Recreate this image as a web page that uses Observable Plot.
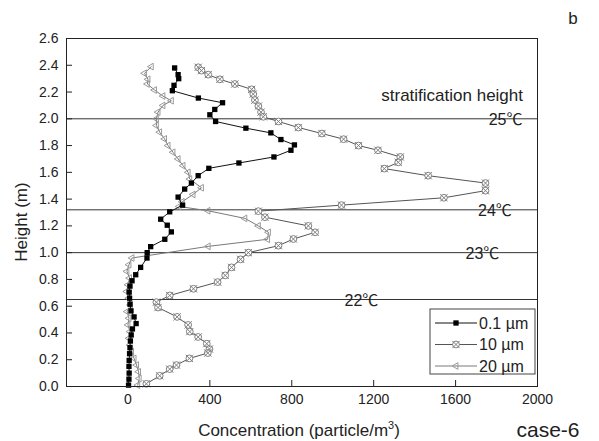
<!DOCTYPE html>
<html>
<head>
<meta charset="utf-8">
<script src="https://cdn.jsdelivr.net/npm/d3@7"></script>
<script src="https://cdn.jsdelivr.net/npm/@observablehq/plot@0.6"></script>
<style>
  body { margin: 0; background: #fff; }
  #chart { width: 599px; height: 441px; }
  svg text { font-family: "Liberation Sans", Arial, "Noto Sans CJK SC", sans-serif; }
</style>
</head>
<body>
<div id="chart"></div>
<script>
// Particle concentration profiles against height (case-6)
const series = ["0.1 µm", "10 µm", "20 µm"];

// 0.1 µm particles: height (m) and concentration (particle/m³)
const h01 = [2.38, 2.33, 2.30, 2.25, 2.21, 2.155, 2.12, 2.07, 2.03, 1.98, 1.93, 1.895, 1.845, 1.805, 1.765, 1.715,
  1.67, 1.63, 1.575, 1.52, 1.475, 1.415, 1.355, 1.305, 1.25, 1.205, 1.155, 1.10, 1.045, 1.00, 0.96, 0.89, 0.835,
  0.79, 0.75, 0.705, 0.66, 0.615, 0.565, 0.52, 0.47, 0.43, 0.385, 0.34, 0.29, 0.245, 0.195, 0.15, 0.10, 0.055, 0.01];
const c01 = [228, 245, 248, 225, 217, 344, 462, 424, 400, 428, 576, 698, 747, 813, 796, 713,
  542, 395, 343, 310, 277, 245, 267, 204, 160, 192, 212, 180, 111, 94, 93, 62, 38,
  20, 10, 6, 8, 10, 15, 30, 40, 22, 16, 12, 10, 8, 6, 5, 6, 5, 3];

// 10 µm particles
const h10 = [2.385, 2.36, 2.33, 2.295, 2.26, 2.22, 2.185, 2.14, 2.095, 2.05, 2.015, 1.98, 1.935, 1.89, 1.848, 1.80,
  1.765, 1.715, 1.675, 1.628, 1.575, 1.52, 1.463, 1.41, 1.355, 1.31, 1.265, 1.20, 1.152, 1.102, 1.052, 1.00,
  0.95, 0.89, 0.83, 0.78, 0.73, 0.68, 0.63, 0.59, 0.52, 0.46, 0.41, 0.37, 0.32, 0.28, 0.25, 0.21, 0.16, 0.13, 0.08, 0.02];
const c10 = [343, 359, 392, 449, 522, 604, 612, 620, 637, 650, 661, 735, 832, 947, 1053, 1126,
  1221, 1330, 1320, 1252, 1466, 1746, 1746, 1543, 1043, 637, 669, 881, 914, 808, 735, 588,
  550, 506, 475, 438, 320, 204, 139, 147, 240, 294, 302, 343, 385, 398, 390, 300, 237, 204, 155, 90];

// 20 µm particles
const h20 = [2.39, 2.34, 2.295, 2.26, 2.215, 2.17, 2.135, 2.10, 2.05, 2.00, 1.95, 1.90, 1.85, 1.80, 1.75, 1.70,
  1.65, 1.60, 1.55, 1.485, 1.435, 1.38, 1.345, 1.313, 1.256, 1.20, 1.152, 1.10, 1.047, 0.96, 0.91, 0.86,
  0.81, 0.76, 0.71, 0.66, 0.61, 0.56, 0.51, 0.46, 0.41, 0.36, 0.31, 0.26, 0.21, 0.16, 0.11, 0.06, 0.01];
const c20 = [114, 81, 98, 95, 130, 171, 212, 171, 147, 139, 139, 155, 179, 196, 220, 245,
  269, 294, 302, 359, 318, 265, 250, 391, 571, 637, 686, 682, 392, 20, 5, -5,
  8, 0, -6, 4, 12, -4, 5, 0, 10, 5, 10, 18, 30, 42, 52, 55, 48];

// Stratification heights and their air temperatures
const stratHeights = [0.65, 1.0, 1.32, 2.0];
const stratTemps = ["22℃", "23℃", "24℃", "25℃"];

// Axis ticks
const xTicks = [0, 400, 800, 1200, 1600, 2000];
const yTicks = [0, 0.2, 0.4, 0.6, 0.8, 1.0, 1.2, 1.4, 1.6, 1.8, 2.0, 2.2, 2.4, 2.6];

const rows = (h, c) => h.map((v, i) => ({h: v, c: c[i]}));
const d01 = rows(h01, c01), d10 = rows(h10, c10), d20 = rows(h20, c20);

// where each temperature tag sits along its stratification line
const tempTagX = [1140, 1731, 1792, 1844];

const W = 599, H = 441, mL = 66, mR = 62, mT = 38, mB = 55;
const plotW = W - mL - mR, plotH = H - mT - mB;

const style = {
  c01: {line: "#111", mark: "#000"},
  c10: {line: "#555", mark: "#808080"},
  c20: {line: "#7a7a7a", mark: "#9a9a9a"}
};

const chart = Plot.plot({
  width: W, height: H,
  marginLeft: mL, marginRight: mR, marginTop: mT, marginBottom: mB,
  style: {background: "#fff", color: "#222", fontSize: "14px", fontFamily: "Liberation Sans, Arial, sans-serif"},
  x: {domain: [-300, 2000]},
  y: {domain: [0, 2.6]},
  marks: [
    Plot.ruleY(stratHeights, {y: d => d, stroke: "#333", strokeWidth: 1}),
    Plot.text(stratHeights, {x: (d, i) => tempTagX[i], y: d => d, text: (d, i) => stratTemps[i],
      dy: 1, fontSize: 16, fill: "#222"}),
    // inward tick marks
    Plot.ruleX(xTicks, {x: d => d, insetTop: plotH - 6, stroke: "#222"}),
    Plot.ruleY(yTicks, {y: d => d, insetRight: plotW - 6, stroke: "#222"}),
    Plot.axisX({ticks: xTicks, tickSize: 0, tickPadding: 8, label: null, tickFormat: d3.format("d"), fontSize: 14, fill: "#222"}),
    Plot.axisY({ticks: yTicks, tickSize: 0, tickPadding: 8, label: null, tickFormat: d3.format(".1f"), fontSize: 14, fill: "#222"}),
    // 20 µm
    Plot.line(d20, {x: "c", y: "h", stroke: style.c20.line, strokeWidth: 1}),
    Plot.dot(d20, {x: "c", y: "h", symbol: "triangle2", r: 3.2, rotate: -90, stroke: style.c20.mark, strokeWidth: 1, fill: "none"}),
    // 10 µm
    Plot.line(d10, {x: "c", y: "h", stroke: style.c10.line, strokeWidth: 1}),
    Plot.dot(d10, {x: "c", y: "h", symbol: "circle", r: 3.4, stroke: style.c10.mark, strokeWidth: 1, fill: "#fff"}),
    Plot.dot(d10, {x: "c", y: "h", symbol: "times", r: 3.4, stroke: style.c10.mark, strokeWidth: 1}),
    // 0.1 µm
    Plot.line(d01, {x: "c", y: "h", stroke: style.c01.line, strokeWidth: 1}),
    Plot.dot(d01, {x: "c", y: "h", symbol: "square", r: 3.0, fill: style.c01.mark, stroke: "none"}),
    Plot.frame({stroke: "#222"})
  ]
});

document.getElementById("chart").appendChild(chart);

// titles, notes and legend
const svg = d3.select(chart);
const font = "Liberation Sans, Arial, Noto Sans CJK SC, sans-serif";

svg.append("text").attr("x", 21).attr("y", 222)
  .attr("transform", "rotate(-90 21 222)").attr("text-anchor", "middle").attr("dominant-baseline", "central")
  .attr("font-size", 17).attr("fill", "#222").attr("font-family", font).text("Height (m)");

const xt = svg.append("text").attr("x", 299).attr("y", 436).attr("text-anchor", "middle")
  .attr("font-size", 17).attr("fill", "#222").attr("font-family", font);
xt.append("tspan").text("Concentration (particle/m");
xt.append("tspan").attr("font-size", 11).attr("dy", -7).text("3");
xt.append("tspan").attr("dy", 7).text(")");

svg.append("text").attr("x", 523).attr("y", 101).attr("text-anchor", "end")
  .attr("font-size", 17).attr("fill", "#222").attr("font-family", font).text("stratification height");

svg.append("text").attr("x", 573).attr("y", 24).attr("text-anchor", "middle")
  .attr("font-size", 17).attr("fill", "#222").attr("font-family", font).text("b");

svg.append("text").attr("x", 548).attr("y", 437).attr("text-anchor", "middle")
  .attr("font-size", 21).attr("fill", "#222").attr("font-family", font).text("case-6");

const lg = svg.append("g").attr("transform", "translate(430,309)");
lg.append("rect").attr("width", 105).attr("height", 65).attr("fill", "#fff").attr("stroke", "#444");
const legendRows = [
  {name: series[0], line: style.c01.line, draw: g => g.append("path").attr("d", d3.symbol(d3.symbolSquare, Math.PI * 9)()).attr("fill", style.c01.mark)},
  {name: series[1], line: style.c10.line, draw: g => {
    g.append("circle").attr("r", 3.4).attr("fill", "#fff").attr("stroke", style.c10.mark);
    g.append("path").attr("d", d3.symbol(d3.symbolTimes, Math.PI * 3.4 * 3.4)()).attr("fill", "none").attr("stroke", style.c10.mark);
  }},
  {name: series[2], line: style.c20.line, draw: g => g.append("path").attr("d", d3.symbol(d3.symbolTriangle2, Math.PI * 3.2 * 3.2)())
    .attr("transform", "rotate(-90)").attr("fill", "none").attr("stroke", style.c20.mark)}
];
legendRows.forEach((r, i) => {
  const row = lg.append("g").attr("transform", `translate(0,${14 + i * 21.5})`);
  row.append("line").attr("x1", 5).attr("x2", 47).attr("stroke", r.line);
  r.draw(row.append("g").attr("transform", "translate(26,0)"));
  row.append("text").attr("x", 49).attr("y", 0).attr("text-anchor", "start").attr("dominant-baseline", "central")
    .attr("font-size", 16).attr("fill", "#222").attr("font-family", font).text(r.name);
});
</script>
</body>
</html>
